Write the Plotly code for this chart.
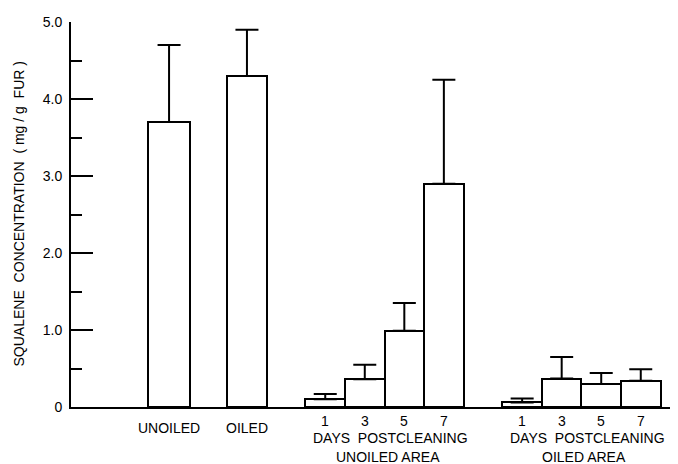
import plotly.graph_objects as go

# ---- data ----
control_labels = ["UNOILED", "OILED"]
control_means = [3.70, 4.30]
control_err = [1.00, 0.60]

days = ["1", "3", "5", "7"]
unoiled_area_means = [0.10, 0.36, 0.99, 2.90]
unoiled_area_err = [0.07, 0.19, 0.36, 1.35]
oiled_area_means = [0.06, 0.37, 0.30, 0.34]
oiled_area_err = [0.05, 0.28, 0.14, 0.15]

group_titles = ["UNOILED AREA", "OILED AREA"]
y_tick_vals = [0, 1, 2, 3, 4, 5]
y_tick_text = ["0", "1.0", "2.0", "3.0", "4.0", "5.0"]

# ---- layout positions (x in axis units) ----
control_x = [2.48, 4.45]
control_w = [1.06, 1.0]
g1_x = [6.43 + i for i in range(4)]
g2_x = [11.41 + i for i in range(4)]

FONT = "Liberation Sans, Arial, Helvetica, sans-serif"
LINE = dict(color="black", width=2)

fig = go.Figure()

def add_bars(xs, ys, errs, widths):
    fig.add_trace(go.Bar(
        x=xs, y=ys, width=widths,
        marker=dict(color="white", line=LINE),
        error_y=dict(type="data", symmetric=False, array=errs,
                     arrayminus=[0] * len(errs), color="black",
                     thickness=2, width=11.5),
        showlegend=False,
    ))

add_bars(control_x, control_means, control_err, control_w)
add_bars(g1_x, unoiled_area_means, unoiled_area_err, [1.0] * 4)
add_bars(g2_x, oiled_area_means, oiled_area_err, [1.0] * 4)

ann = []
def label(x, text, yshift, xshift=0):
    ann.append(dict(x=x, y=0, xref="x", yref="paper", text=text,
                    showarrow=False, yanchor="middle", xanchor="center",
                    yshift=yshift, xshift=xshift,
                    font=dict(family=FONT, size=14, color="black")))

for x, t in zip(control_x, control_labels):
    label(x, t, -21)
for xs, title in [(g1_x, group_titles[0]), (g2_x, group_titles[1])]:
    for x, d in zip(xs, days):
        label(x, d, -14)
    c = sum(xs) / len(xs)
    label(c, "DAYS  POSTCLEANING", -31, 6)
    label(c, title, -50, 3)

ann.append(dict(x=0, y=0.5, xref="paper", yref="paper",
                text="SQUALENE  CONCENTRATION  ( mg / g  FUR )",
                textangle=-90, showarrow=False, xanchor="center",
                yanchor="middle", xshift=-53,
                font=dict(family=FONT, size=14, color="black")))

# page body has an 8px default margin, so the figure is sized/offset to compensate
fig.update_layout(
    width=670, height=456,
    margin=dict(l=63, r=6, t=11, b=57),
    paper_bgcolor="white", plot_bgcolor="white",
    annotations=ann,
    bargap=0,
    xaxis=dict(range=[0, 15.2], showgrid=False, zeroline=False,
               showticklabels=False, ticks="", showline=True,
               linecolor="black", linewidth=2),
    yaxis=dict(range=[0, 5.0], showgrid=False, zeroline=False,
               showline=True, linecolor="black", linewidth=2,
               tickvals=y_tick_vals, ticktext=y_tick_text,
               ticks="inside", ticklen=22, tickwidth=2, tickcolor="black",
               ticklabelstandoff=4,
               tickfont=dict(family=FONT, size=14, color="black"),
               minor=dict(dtick=0.5, tick0=0, ticks="inside", ticklen=11,
                          tickwidth=2, tickcolor="black", showgrid=False)),
)

fig.write_html("out.html")
